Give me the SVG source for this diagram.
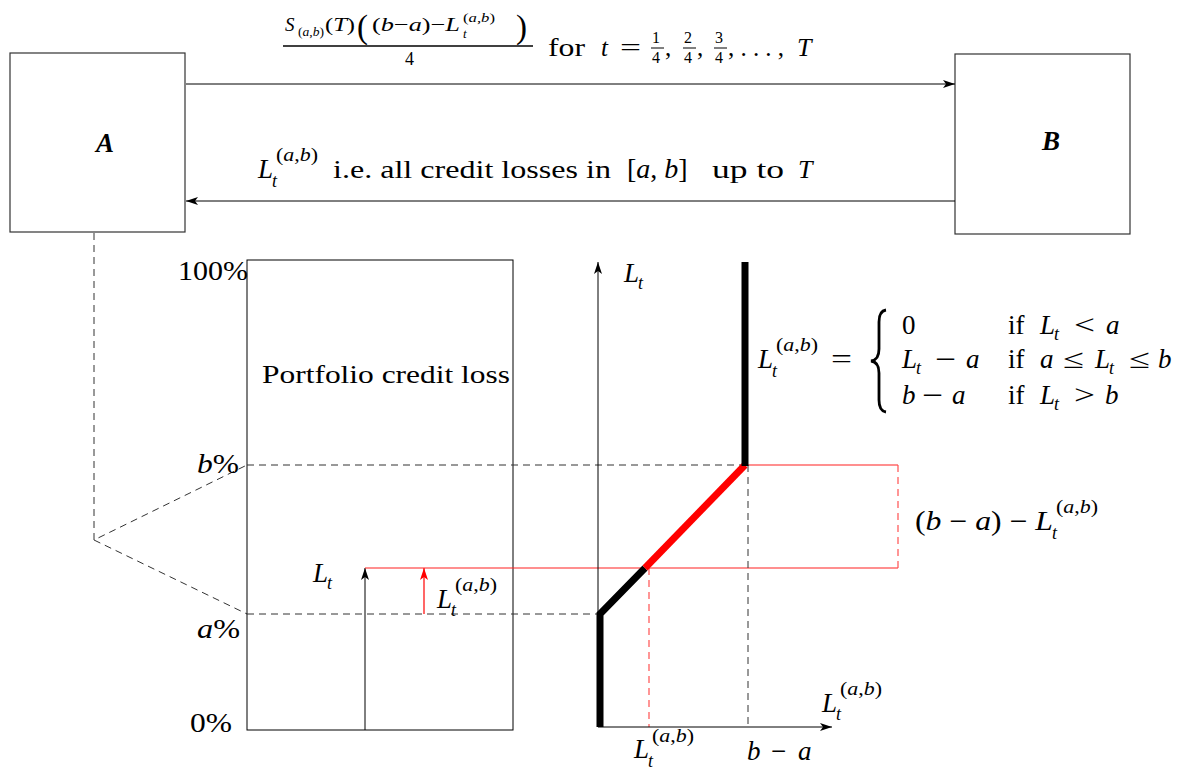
<svg xmlns="http://www.w3.org/2000/svg" width="1191" height="771" viewBox="0 0 1191 771">
<style>
text{font-family:"Liberation Serif","Times New Roman","DejaVu Serif",serif;fill:#000}
.i{font-style:italic}
.m{font-size:27px}
.s{font-size:18px}
.t24{font-size:25px}
.box{fill:#fff;stroke:#333;stroke-width:1.2}
.ln{stroke:#000;stroke-width:1;fill:none}
.dash{stroke:#333;stroke-width:1;stroke-dasharray:7,5;fill:none}
.red{stroke:#ff2020;stroke-width:1.2;fill:none}
.rdash{stroke:#ff5050;stroke-width:1.2;stroke-dasharray:7,5;fill:none}
.thk{stroke:#000;stroke-width:7;fill:none}
.thr{stroke:#ff0000;stroke-width:7;fill:none}
.fb{stroke:#000;stroke-width:1}
</style>
<defs>
<marker id="ah" viewBox="0 0 12 8" refX="12" refY="4" markerWidth="12" markerHeight="8" markerUnits="userSpaceOnUse" orient="auto">
<path d="M0,0 L12,4 L0,8 L3,4 Z" fill="#000"/>
</marker>
<marker id="ahr" viewBox="0 0 12 8" refX="12" refY="4" markerWidth="12" markerHeight="8" markerUnits="userSpaceOnUse" orient="auto">
<path d="M0,0 L12,4 L0,8 L3,4 Z" fill="#ff0000"/>
</marker>
</defs>
<rect width="1191" height="771" fill="#fff"/>

<g id="nodeA">
<rect class="box" x="10" y="53" width="175" height="179"/>
<text x="96" y="152" class="m i" font-weight="bold">A</text>
</g>
<g id="nodeB">
<rect class="box" x="955" y="54" width="175" height="180"/>
<text x="1042" y="150" class="m i" font-weight="bold">B</text>
</g>

<g id="connectors">
<line class="ln" x1="186" y1="84" x2="955" y2="84" marker-end="url(#ah)"/>
<line class="ln" x1="955" y1="201" x2="186" y2="201" marker-end="url(#ah)"/>
<polyline class="dash" points="94,233 94,540 247,465"/>
<line class="dash" x1="94" y1="540" x2="247" y2="614"/>
</g>

<g id="topLabel">
<text x="285" y="31" font-size="19" class="i">S</text>
<text x="298" y="36" font-size="13" textLength="26" lengthAdjust="spacingAndGlyphs">(<tspan class="i">a</tspan>,<tspan class="i">b</tspan>)</text>
<text x="325" y="31" font-size="19" textLength="30" lengthAdjust="spacingAndGlyphs">(<tspan class="i">T</tspan>)</text>
<text x="357" y="38" font-size="33">(</text>
<text x="372" y="31" font-size="19" textLength="88" lengthAdjust="spacingAndGlyphs">(<tspan class="i">b</tspan>−<tspan class="i">a</tspan>)−<tspan class="i">L</tspan></text>
<text x="463" y="22" font-size="13" textLength="32" lengthAdjust="spacingAndGlyphs">(<tspan class="i">a</tspan>,<tspan class="i">b</tspan>)</text>
<text x="463" y="38" font-size="13" class="i">t</text>
<text x="516" y="38" font-size="33">)</text>
<line x1="283" y1="46" x2="533" y2="46" stroke="#000" stroke-width="1.3"/>
<text x="405" y="65" font-size="18">4</text>
<text x="548" y="56" class="t24" textLength="37" lengthAdjust="spacingAndGlyphs">for</text>
<text x="601" y="56" class="t24 i">t</text>
<text x="620" y="56" class="t24" textLength="21" lengthAdjust="spacingAndGlyphs">=</text>
<g font-size="16">
<text x="652" y="43">1</text><text x="652" y="63">4</text>
<text x="684" y="43">2</text><text x="684" y="63">4</text>
<text x="715" y="43">3</text><text x="715" y="63">4</text>
</g>
<line class="fb" x1="651" y1="48" x2="664" y2="48"/>
<line class="fb" x1="683" y1="48" x2="696" y2="48"/>
<line class="fb" x1="714" y1="48" x2="727" y2="48"/>
<text x="665" y="56" class="t24">,</text>
<text x="697" y="56" class="t24">,</text>
<text x="728" y="56" class="t24" textLength="56" lengthAdjust="spacing">, . . . ,</text>
<text x="797" y="56" font-size="26" class="i">T</text>
</g>

<g id="bottomLabel">
<text x="258" y="178" class="m i">L</text>
<text x="276" y="161" class="s" textLength="42" lengthAdjust="spacingAndGlyphs">(<tspan class="i">a</tspan>,<tspan class="i">b</tspan>)</text>
<text x="272" y="187" class="s i">t</text>
<text x="333" y="178" class="t24" textLength="278" lengthAdjust="spacingAndGlyphs">i.e. all credit losses in</text>
<text x="627" y="178" font-size="28">[<tspan class="i">a</tspan>, <tspan class="i">b</tspan>]</text>
<text x="712" y="178" class="t24" textLength="72" lengthAdjust="spacingAndGlyphs">up to</text>
<text x="798" y="178" font-size="26" class="i">T</text>
</g>

<g id="portfolio">
<rect x="247" y="260" width="266" height="470" fill="none" stroke="#000" stroke-width="1"/>
<text x="262" y="383" font-size="26" textLength="248" lengthAdjust="spacingAndGlyphs">Portfolio credit loss</text>
<text x="178" y="280" class="m" textLength="70" lengthAdjust="spacingAndGlyphs">100%</text>
<text x="197" y="473" class="m" textLength="42" lengthAdjust="spacingAndGlyphs"><tspan class="i">b</tspan>%</text>
<text x="197" y="638" class="m" textLength="43" lengthAdjust="spacingAndGlyphs"><tspan class="i">a</tspan>%</text>
<text x="190" y="732" class="m" textLength="42" lengthAdjust="spacingAndGlyphs">0%</text>
<line class="dash" x1="247" y1="465" x2="748" y2="465"/>
<line class="dash" x1="247" y1="614" x2="598" y2="614"/>
<line class="ln" x1="365" y1="730" x2="365" y2="568" marker-end="url(#ah)"/>
<line x1="424" y1="614" x2="424" y2="568" stroke="#ff0000" stroke-width="1.2" marker-end="url(#ahr)"/>
<text x="313" y="582" class="m i">L</text>
<text x="327" y="589" class="s i">t</text>
<text x="437" y="608" class="m i">L</text>
<text x="455" y="591" class="s" textLength="42" lengthAdjust="spacingAndGlyphs">(<tspan class="i">a</tspan>,<tspan class="i">b</tspan>)</text>
<text x="451" y="616" class="s i">t</text>
</g>

<g id="chart">
<line class="red" x1="365" y1="568" x2="898" y2="568"/>
<line class="red" x1="745" y1="465" x2="898" y2="465"/>
<line class="rdash" x1="898" y1="465" x2="898" y2="568"/>
<line class="rdash" x1="649" y1="568" x2="649" y2="727"/>
<line class="dash" x1="748" y1="465" x2="748" y2="727"/>
<line class="ln" x1="598" y1="727" x2="598" y2="262" marker-end="url(#ah)" stroke="#333"/>
<line class="ln" x1="598" y1="727" x2="832" y2="727" marker-end="url(#ah)"/>
<polyline class="thk" points="600,727 600,614 645,568"/>
<line class="thr" x1="645" y1="568" x2="745" y2="465"/>
<line class="thk" x1="745" y1="466" x2="745" y2="262"/>
<text x="624" y="282" class="m i">L</text>
<text x="638" y="289" class="s i">t</text>
<text x="822" y="712" class="m i">L</text>
<text x="840" y="695" class="s" textLength="42" lengthAdjust="spacingAndGlyphs">(<tspan class="i">a</tspan>,<tspan class="i">b</tspan>)</text>
<text x="836" y="720" class="s i">t</text>
<text x="634" y="758" class="m i">L</text>
<text x="652" y="742" class="s" textLength="42" lengthAdjust="spacingAndGlyphs">(<tspan class="i">a</tspan>,<tspan class="i">b</tspan>)</text>
<text x="648" y="767" class="s i">t</text>
<text x="747" y="760" class="m i">b</text>
<text x="771" y="760" class="m">−</text>
<text x="798" y="760" class="m i">a</text>
<text x="915" y="530" class="m" textLength="138" lengthAdjust="spacingAndGlyphs">(<tspan class="i">b</tspan> − <tspan class="i">a</tspan>) − <tspan class="i">L</tspan></text>
<text x="1056" y="513" class="s" textLength="42" lengthAdjust="spacingAndGlyphs">(<tspan class="i">a</tspan>,<tspan class="i">b</tspan>)</text>
<text x="1052" y="539" class="s i">t</text>
</g>

<g id="formula">
<text x="758" y="368" class="m i">L</text>
<text x="776" y="351" class="s" textLength="42" lengthAdjust="spacingAndGlyphs">(<tspan class="i">a</tspan>,<tspan class="i">b</tspan>)</text>
<text x="772" y="377" class="s i">t</text>
<text x="831" y="368" class="m" textLength="21" lengthAdjust="spacingAndGlyphs">=</text>
<path d="M886,310 Q879,311 879,322 L879,349 Q879,360 871,361 Q879,362 879,373 L879,400 Q879,411 886,412" fill="none" stroke="#000" stroke-width="2.8"/>
<text x="902" y="334" class="m">0</text>
<text x="1008" y="334" class="m">if</text>
<text x="1040" y="334" class="m i">L</text>
<text x="1054" y="340" class="s i">t</text>
<text x="1074" y="334" class="m" textLength="21" lengthAdjust="spacingAndGlyphs">&lt;</text>
<text x="1106" y="334" class="m i">a</text>
<text x="902" y="368" class="m i">L</text>
<text x="916" y="374" class="s i">t</text>
<text x="935" y="368" class="m" textLength="21" lengthAdjust="spacingAndGlyphs">−</text>
<text x="966" y="368" class="m i">a</text>
<text x="1008" y="368" class="m">if</text>
<text x="1040" y="368" class="m i">a</text>
<text x="1063" y="368" class="m" textLength="21" lengthAdjust="spacingAndGlyphs">≤</text>
<text x="1095" y="368" class="m i">L</text>
<text x="1109" y="374" class="s i">t</text>
<text x="1129" y="368" class="m" textLength="21" lengthAdjust="spacingAndGlyphs">≤</text>
<text x="1158" y="368" class="m i">b</text>
<text x="902" y="404" class="m i">b</text>
<text x="922" y="404" class="m" textLength="21" lengthAdjust="spacingAndGlyphs">−</text>
<text x="952" y="404" class="m i">a</text>
<text x="1008" y="404" class="m">if</text>
<text x="1040" y="404" class="m i">L</text>
<text x="1054" y="410" class="s i">t</text>
<text x="1074" y="404" class="m" textLength="21" lengthAdjust="spacingAndGlyphs">&gt;</text>
<text x="1105" y="404" class="m i">b</text>
</g>
</svg>
